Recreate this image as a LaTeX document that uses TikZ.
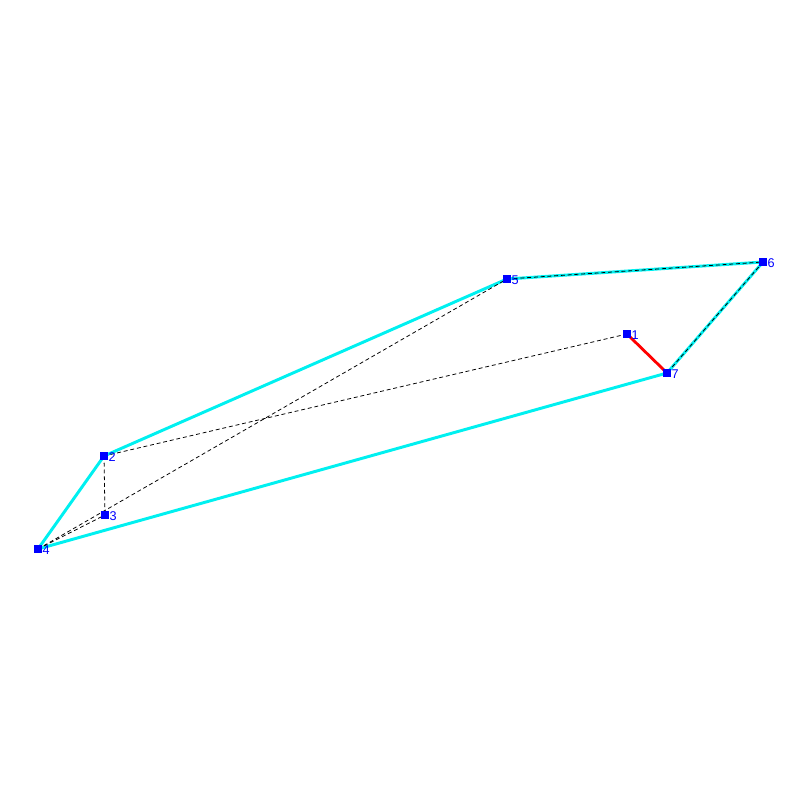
\documentclass[tikz,border=0pt]{standalone}
\usepackage{fontspec}
\setsansfont{Liberation Sans}
\definecolor{hull}{RGB}{0,240,240}
\definecolor{vert}{RGB}{0,0,255}
\begin{document}
\begin{tikzpicture}[x=0.025cm, y=-0.025cm,
      pt/.style = {fill=vert, draw=none, rectangle, minimum size=5pt, inner sep=0pt,
                   label={[lbl]east:#1}},
      lbl/.style = {text=vert, font=\sffamily\fontsize{9}{9}\selectfont, inner sep=0.3pt, yshift=-1pt},
      hulledge/.style = {draw=hull, line width=2.1pt},
      trial/.style = {draw=black, line width=0.55pt, dash pattern=on 2.8pt off 2pt},
      cut/.style = {draw=red, line width=2pt}]
    \useasboundingbox (0,0) rectangle (800,800);
    % points
    \coordinate (c1) at (627,334);
    \coordinate (c2) at (104,456);
    \coordinate (c3) at (105,515);
    \coordinate (c4) at (38,549);
    \coordinate (c5) at (507,279);
    \coordinate (c6) at (763,262);
    \coordinate (c7) at (667,373);

    % hull
    \draw[hulledge] (c4) -- (c2) -- (c5) -- (c6) -- (c7) -- (c4);

    % dashed edges
    \draw[trial] (c2) -- (c1);
    \draw[trial] (c2) -- (c3);
    \draw[trial] (c4) -- (c3);
    \draw[trial] (c4) -- (c5);
    \draw[trial] (c5) -- (c6);
    \draw[trial] (c6) -- (c7);

    % red edge
    \draw[cut] (c1) -- (c7);

    % vertices
    \foreach \i in {1,...,7}
      \node[pt=\i] (v\i) at (c\i) {};
  \end{tikzpicture}
\end{document}
